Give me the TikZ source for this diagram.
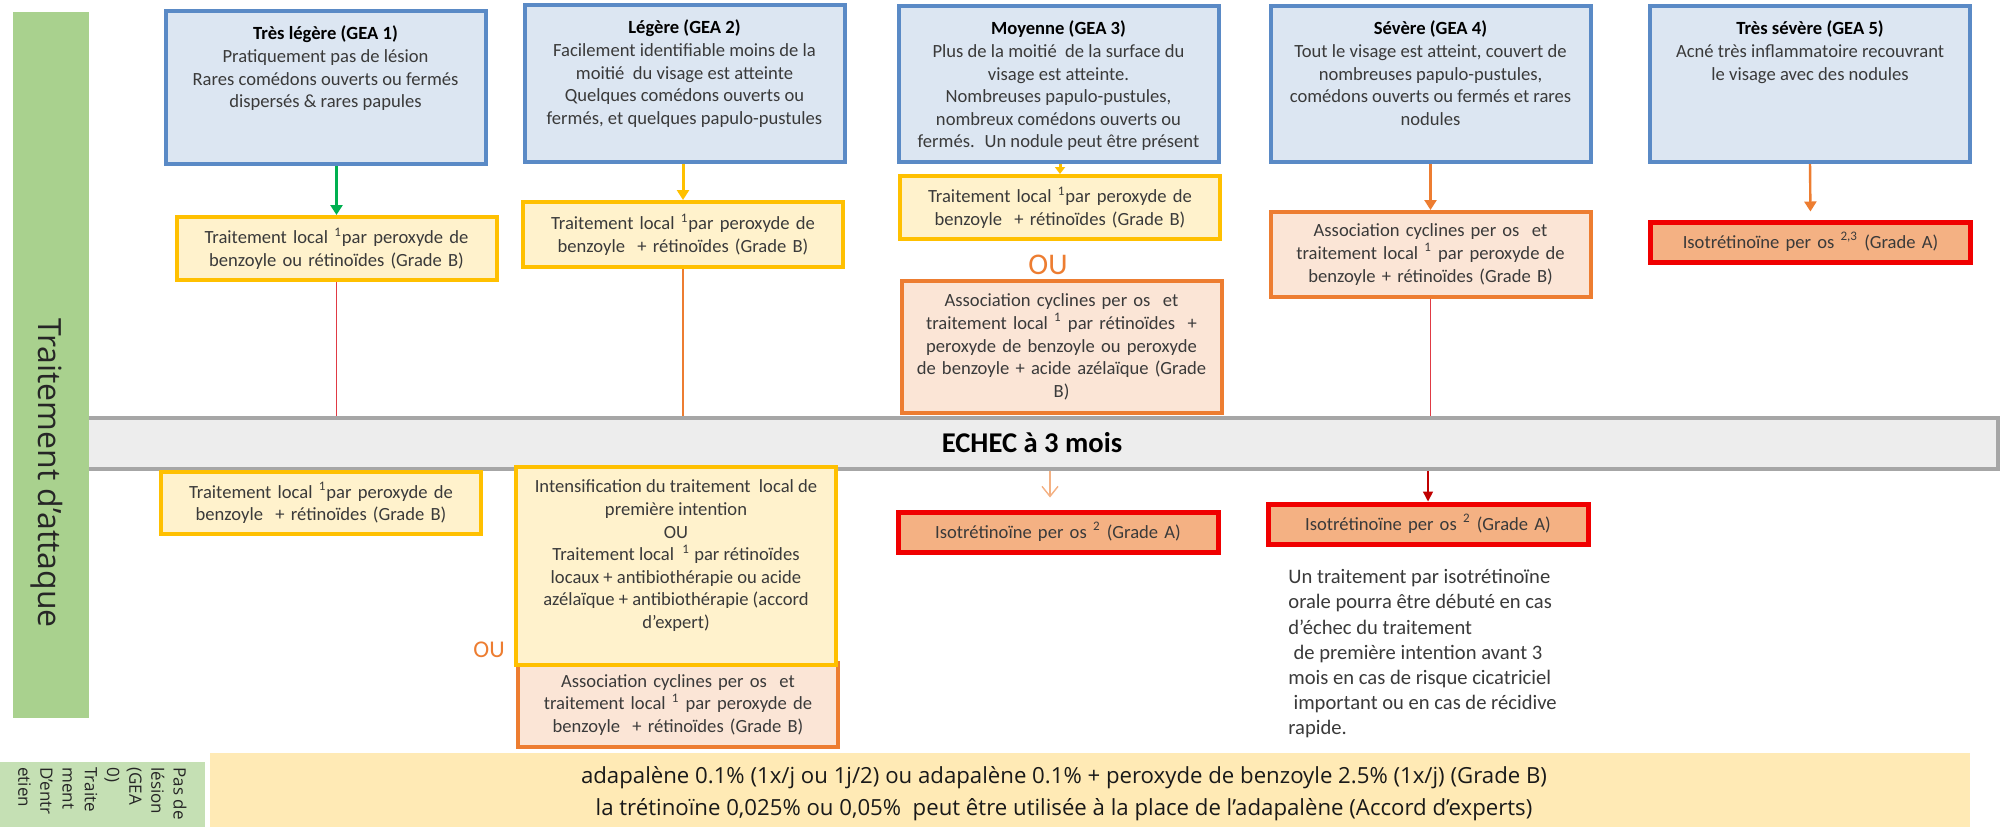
\documentclass[tikz,border=0pt]{standalone}
\usepackage{fontspec}
\setmainfont{Carlito}
\newfontfamily\osans{Open Sans}
\usetikzlibrary{arrows.meta}
\definecolor{bluebd}{HTML}{5A8AC6}
\definecolor{bluefl}{HTML}{DCE6F2}
\definecolor{yelbd}{HTML}{FFC000}
\definecolor{yelfl}{HTML}{FFF2CC}
\definecolor{orabd}{HTML}{ED7D31}
\definecolor{orafl}{HTML}{FBE5D6}
\definecolor{redbd}{HTML}{F00000}
\definecolor{redfl}{HTML}{F4B183}
\definecolor{greenbar}{HTML}{A9D18E}
\definecolor{greenlt}{HTML}{C5E0B4}
\definecolor{bandfl}{HTML}{FFEAB5}
\definecolor{barfl}{HTML}{EDEDED}
\definecolor{barbd}{HTML}{A6A6A6}
\definecolor{txt}{HTML}{3A3A3A}
\definecolor{arrgreen}{HTML}{00B050}
\definecolor{linered}{HTML}{E03A44}
\definecolor{darkred}{HTML}{C00000}
\definecolor{salmon}{HTML}{F4B183}
\newcommand{\topcontent}[3]{\begin{minipage}[c][#1][t]{156pt}\centering\vspace*{#2}#3\end{minipage}}
\newcommand{\ttl}[1]{{\color{black}\bfseries #1}}
\tikzset{
  boxfont/.style={text=txt, font=\fontsize{9.3}{11.3}\selectfont},
  topbox/.style={boxfont, draw=bluebd, fill=bluefl, line width=2pt, inner sep=0pt, minimum width=160pt},
  tallbox/.style={boxfont, draw=yelbd, fill=yelfl, line width=2pt, inner sep=0pt, minimum width=160pt},
  cbox/.style={boxfont, line width=2pt, inner sep=0pt, align=center, text width=156pt, minimum width=160pt},
  ybox/.style={cbox, draw=yelbd, fill=yelfl},
  obox/.style={cbox, draw=orabd, fill=orafl},
  rbox/.style={cbox, draw=redbd, fill=redfl, line width=2.5pt},
  oulabel/.style={text=orabd, inner sep=0pt},
  arr/.style={line width=1.5pt, -{Triangle[width=6pt,length=5pt]}},
  thin/.style={line width=0.8pt}
}
\begin{document}
\begin{tikzpicture}[x=0.5pt,y=-0.5pt]
\useasboundingbox (0,0) rectangle (2000,827);
\fill[white] (0,0) rectangle (2000,827);

% ECHEC bar and green side bar
\node[draw=barbd, fill=barfl, line width=2pt, minimum width=969pt, minimum height=25.5pt, inner sep=0pt] (bar) at (1029,443.5) {};
\node[fill=greenbar, minimum width=38pt, minimum height=353pt, inner sep=0pt] (gbar) at (51,365) {};
\node[rotate=-90, font=\osans\fontsize{16}{19}\selectfont, text=black!85] (attaque) at (47,473) {Traitement d’attaque};
\node[font=\bfseries\fontsize{14.3}{16}\selectfont] (echec) at (1032,443) {ECHEC à 3 mois};
\coordinate (moyarr) at (1050,0);

% top row
\node[topbox] (t1) at (325.5,87.5) {\topcontent{76.5pt}{7.5pt}{\ttl{Très légère (GEA 1)}\\Pratiquement pas de lésion\\Rares comédons ouverts ou fermés\\dispersés \& rares papules}};
\node[topbox] (t2) at (684.5,83.5) {\topcontent{78.5pt}{7.5pt}{\ttl{Légère (GEA 2)}\\Facilement identifiable moins de la\\moitié~ du visage est atteinte\\Quelques comédons ouverts ou\\fermés, et quelques papulo-pustules}};
\node[topbox] (t3) at (1058.5,84) {\topcontent{78pt}{7.5pt}{\ttl{Moyenne (GEA 3)}\\Plus de la moitié~ de la surface du\\visage est atteinte.\\Nombreuses papulo-pustules,\\nombreux comédons ouverts ou\\fermés.~ Un nodule peut être présent}};
\node[topbox] (t4) at (1430.5,84) {\topcontent{78pt}{7.5pt}{\ttl{Sévère (GEA 4)}\\Tout le visage est atteint, couvert de\\nombreuses papulo-pustules,\\comédons ouverts ou fermés et rares\\nodules}};
\node[topbox] (t5) at (1810,84) {\topcontent{78pt}{7.5pt}{\ttl{Très sévère (GEA 5)}\\Acné très inflammatoire recouvrant\\le visage avec des nodules}};

% second row
\node[ybox, minimum height=31.5pt] (b1) at (336.5,248.5) {Traitement local \textsuperscript{1}par peroxyde de\\benzoyle ou rétinoïdes (Grade B)};
\node[ybox, minimum height=32.5pt] (b2) at (683,234.5) {Traitement local \textsuperscript{1}par peroxyde de\\benzoyle~ + rétinoïdes (Grade B)};
\node[ybox, minimum height=31.5pt] (b3) at (1060,207.5) {Traitement local \textsuperscript{1}par peroxyde de\\benzoyle~ + rétinoïdes (Grade B)};
\node[oulabel, font=\fontsize{15}{17}\selectfont] (ou1) at (1048,265) {OU};
\node[obox, minimum height=66pt] (b3c) at (1061.5,347) {Association cyclines per os~ et\\traitement local \textsuperscript{1} par rétinoïdes~ +\\peroxyde de benzoyle ou peroxyde\\de benzoyle + acide azélaïque (Grade\\B)};
\node[obox, minimum height=42.5pt] (b4) at (1430.5,254.5) {Association cyclines per os~ et\\traitement local \textsuperscript{1} par peroxyde de\\benzoyle + rétinoïdes (Grade B)};
\node[rbox, minimum height=20pt] (b5) at (1810.5,242) {Isotrétinoïne per os \textsuperscript{2,3} (Grade A)};

% lower row
\node[ybox, minimum height=31pt] (L1) at (321,503) {Traitement local \textsuperscript{1}par peroxyde de\\benzoyle~ + rétinoïdes (Grade B)};
\node[obox, minimum height=42pt] (L3) at (678,705) {Association cyclines per os~ et\\traitement local \textsuperscript{1} par peroxyde de\\benzoyle~ + rétinoïdes (Grade B)};
\node[tallbox] (L2) at (676,566) {\topcontent{99pt}{6.5pt}{Intensification du traitement~ local de\\première intention\\OU\\Traitement local~ \textsuperscript{1} par rétinoïdes\\locaux + antibiothérapie ou acide\\azélaïque + antibiothérapie (accord\\d’expert)}};
\node[oulabel, font=\fontsize{12}{14}\selectfont] (ou2) at (489,650) {OU};
\node[rbox, minimum height=20pt] (L4) at (1058,532) {Isotrétinoïne per os \textsuperscript{2} (Grade A)};
\node[rbox, minimum height=20pt] (L5) at (1428,524) {Isotrétinoïne per os \textsuperscript{2} (Grade A)};
\node[anchor=north west, align=left, inner sep=0pt, text=txt, font=\fontsize{10.3}{12.6}\selectfont] (note) at (1288,569) {Un traitement par isotrétinoïne\\orale pourra être débuté en cas\\d’échec du traitement\\\hspace*{0.25em}de première intention avant 3\\mois en cas de risque cicatriciel\\\hspace*{0.25em}important ou en cas de récidive\\rapide.};

% bottom band
\node[fill=greenlt, minimum width=102.5pt, minimum height=32.5pt, inner sep=0pt] (gbot) at (102.5,794.5) {};
\node[rotate=-90, anchor=north west, align=left, inner sep=0pt, text=black!85, font=\osans\fontsize{8.5}{11.1}\selectfont] (entlab) at (187,767) {Pas de\\lésion\\(GEA\\0)\\Traite\\ment\\D’entr\\etien};
\node[fill=bandfl, minimum width=880pt, minimum height=37pt, inner sep=0pt] (band) at (1090,790) {};
\node[align=center, inner sep=0pt, text=black!90, font=\osans\fontsize{11.1}{16}\selectfont] (ent) at (1064,794) {adapalène 0.1\% (1x/j ou 1j/2) ou adapalène 0.1\% + peroxyde de benzoyle 2.5\% (1x/j) (Grade B)\\la trétinoïne 0,025\% ou 0,05\%~ peut être utilisée à la place de l’adapalène (Accord d’experts)};

% connectors
\draw[arr, arrgreen] (b1.north |- t1.south) -- (b1.north);
\draw[arr, yelbd] (b2.north |- t2.south) -- (b2.north);
\draw[yelbd, line width=1.5pt, -{Triangle[width=5pt,length=3.5pt]}] (b3.north |- t3.south) -- (b3.north);
\draw[orabd, line width=1.2pt, -{Triangle[width=6pt,length=5pt]}] (t4.south) -- (b4.north);
\draw[orabd, line width=1.2pt, -{Triangle[width=6pt,length=5pt]}, shorten >=4pt] (t5.south) -- (b5.north);
\draw[thin, linered] (b1.south) -- (b1.south |- bar.north);
\draw[thin, orabd] (b2.south) -- (b2.south |- bar.north);
\draw[thin, linered] (b4.south) -- (b4.south |- bar.north);
\draw[thin, darkred, -{Triangle[width=5pt,length=5pt]}] (L5.north |- bar.south) -- (L5.north);
\draw[line width=0.7pt, salmon, -{Straight Barb[width=8pt,length=5pt]}, shorten >=6pt] (moyarr |- bar.south) -- (moyarr |- L4.north);
\end{tikzpicture}
\end{document}
